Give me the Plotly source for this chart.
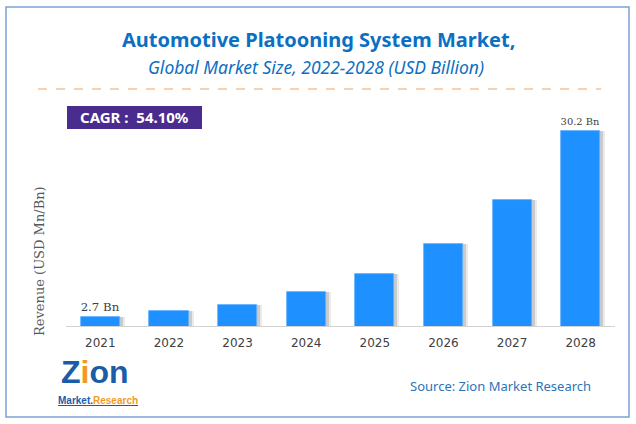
import plotly.graph_objects as go

# ---- data ----
years = ["2021", "2022", "2023", "2024", "2025", "2026", "2027", "2028"]
revenue = [2.7, 3.54, 4.52, 6.44, 9.10, 13.45, 19.95, 30.2]
bar_labels = ["2.7 Bn", "", "", "", "", "", "", "30.2 Bn"]
y_min, y_max = 1.37, 31.83

title = "Automotive Platooning System Market,"
subtitle = "Global Market Size, 2022-2028 (USD Billion)"
cagr_text = "CAGR :  54.10%"
y_title = "Revenue (USD Mn/Bn)"
source = "Source: Zion Market Research"

W, H = 636, 424
L, R, T, B = 66, 21, 120, 98
PW, PH = W - L - R, H - T - B

def px(x):
    return (x - L) / PW

def py(y):
    return (H - B - y) / PH

BAR_W = 0.57
step_px = PW / len(years)

fig = go.Figure()
# soft shadow
for shift, alpha in [(5, 0.10), (3, 0.18)]:
    fig.add_trace(go.Bar(
        x=years, y=revenue, width=BAR_W, offset=-BAR_W / 2 + shift / step_px,
        marker=dict(color=f"rgba(60,60,60,{alpha})", line=dict(width=0)),
        hoverinfo="skip", showlegend=False))
fig.add_trace(go.Bar(
    x=years, y=revenue, width=BAR_W, offset=-BAR_W / 2,
    marker=dict(color="#1E90FF", line=dict(color="#63B1FF", width=0.8)),
    text=bar_labels, textposition="outside", cliponaxis=False,
    textfont=dict(family="DejaVu Serif", size=12, color="#404040"),
    showlegend=False))

fig.update_layout(
    width=W, height=H, autosize=False,
    margin=dict(l=L, r=R, t=T, b=B, pad=0),
    paper_bgcolor="white", plot_bgcolor="white",
    barmode="overlay", bargap=0,
    xaxis=dict(showline=True, linecolor="#D3D3D3", linewidth=1,
               ticks="", showgrid=False, zeroline=False,
               tickfont=dict(family="DejaVu Sans", size=12, color="#404040"),
               ticklabelstandoff=6),
    yaxis=dict(range=[y_min, y_max], visible=False),
    shapes=[
        dict(type="rect", xref="paper", yref="paper",
             x0=px(6), x1=px(629), y0=py(417), y1=py(7),
             line=dict(color="#7BA3D4", width=1.5), layer="below"),
        dict(type="line", xref="paper", yref="paper",
             x0=px(38), x1=px(601), y0=py(89), y1=py(89),
             line=dict(color="#F4A25E", width=1, dash="dash")),
        dict(type="rect", xref="paper", yref="paper",
             x0=px(67), x1=px(202), y0=py(129), y1=py(106),
             line=dict(width=0), fillcolor="#4A2C8F"),
    ],
    annotations=[
        dict(text=f"<b>{title}</b>", x=px(318), y=py(40), xref="paper", yref="paper",
             showarrow=False, xanchor="center", yanchor="middle",
             font=dict(family="Noto Sans", size=20, color="#0B6FC2")),
        dict(text=f"<i>{subtitle}</i>", x=px(316), y=py(67), xref="paper", yref="paper",
             showarrow=False, xanchor="center", yanchor="middle",
             font=dict(family="Noto Sans", size=17.5, color="#0B6FC2")),
        dict(text=f"<b>{cagr_text}</b>", x=px(134), y=py(117.5), xref="paper", yref="paper",
             showarrow=False, xanchor="center", yanchor="middle",
             font=dict(family="Noto Sans", size=15, color="white")),
        dict(text=y_title, x=px(39), y=py(261), xref="paper", yref="paper",
             showarrow=False, xanchor="center", yanchor="middle", textangle=-90,
             font=dict(family="DejaVu Serif", size=13, color="#595959")),
        dict(text=source, x=px(500), y=py(386), xref="paper", yref="paper",
             showarrow=False, xanchor="center", yanchor="middle",
             font=dict(family="Noto Sans", size=13, color="#2E74B5")),
        dict(text="<b>Z<span style='color:#F39A1E'>i</span>on</b>", x=px(95), y=py(392),
             xref="paper", yref="paper", showarrow=False, xanchor="center", yanchor="bottom",
             font=dict(family="Liberation Sans", size=32, color="#1A5CA8")),
        dict(text="<b><u>Market.<span style='color:#F39A1E'>Research</span></u></b>", x=px(98), y=py(393),
             xref="paper", yref="paper", showarrow=False, xanchor="center", yanchor="top",
             font=dict(family="Liberation Sans", size=10, color="#1A5CA8")),
    ],
)

fig.write_html("out.html", config={"displayModeBar": False},
               post_script="document.body.style.margin='0';")
